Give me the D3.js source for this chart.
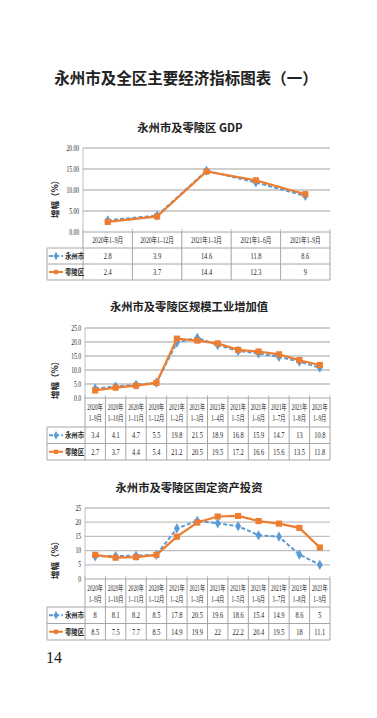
<!DOCTYPE html>
<html><head><meta charset="utf-8">
<script src="https://cdn.jsdelivr.net/npm/d3@7"></script>
<style>
html,body{margin:0;padding:0;background:#fff;}
svg{display:block;}
</style></head>
<body>
<svg id="c" width="377" height="718"></svg>
<script>
// ---------- DATA ----------
const pageTitle = "永州市及全区主要经济指标图表（一）";
const pageNumber = "14";
const seriesNames = ["永州市", "零陵区"];

const gdpTitle = "永州市及零陵区 GDP";
const gdpCategories = [["2020年1–9月"], ["2020年1–12月"], ["2021年1–3月"], ["2021年1–6月"], ["2021年1–9月"]];
const gdpYongzhou = [2.8, 3.9, 14.6, 11.8, 8.6];
const gdpLingling = [2.4, 3.7, 14.4, 12.3, 9];
const gdpTicks = [0, 5, 10, 15, 20];

const indTitle = "永州市及零陵区规模工业增加值";
const monthCategories = [
  ["2020年","1–9月"],["2020年","1–10月"],["2020年","1–11月"],["2020年","1–12月"],
  ["2021年","1–2月"],["2021年","1–3月"],["2021年","1–4月"],["2021年","1–5月"],
  ["2021年","1–6月"],["2021年","1–7月"],["2021年","1–8月"],["2021年","1–9月"]];
const indYongzhou = [3.4, 4.1, 4.7, 5.5, 19.8, 21.5, 18.9, 16.8, 15.9, 14.7, 13, 10.8];
const indLingling = [2.7, 3.7, 4.4, 5.4, 21.2, 20.5, 19.5, 17.2, 16.6, 15.6, 13.5, 11.8];
const indTicks = [0, 5, 10, 15, 20, 25];

const invTitle = "永州市及零陵区固定资产投资";
const invYongzhou = [8, 8.1, 8.2, 8.5, 17.8, 20.5, 19.6, 18.6, 15.4, 14.9, 8.6, 5];
const invLingling = [8.5, 7.5, 7.7, 8.5, 14.9, 19.9, 22, 22.2, 20.4, 19.5, 18, 11.1];
const invTicks = [0, 5, 10, 15, 20, 25];

const yAxisTitle = "增幅（%）";

// ---------- DRAW ----------
const svg = d3.select("#c");
const BLUE = "#5B9BD5", ORANGE = "#ED7D31", GRID = "#BFBFBF", BORDER = "#A6A6A6";
const SANS = "'Noto Sans CJK SC','Noto Sans',sans-serif";
const SERIF = "'Liberation Serif','Noto Sans CJK SC',serif";

svg.append("text").attr("x", 186).attr("y", 84).attr("text-anchor", "middle")
  .attr("font-family", SANS).attr("font-weight", "bold").attr("font-size", 15.5)
  .attr("fill", "#222").text(pageTitle);

svg.append("text").attr("x", 46).attr("y", 663)
  .attr("font-family", SERIF).attr("font-size", 16).attr("fill", "#222").text(pageNumber);

function condText(g, x, y, txt, size, anchor, sx) {
  return g.append("text").attr("transform", `translate(${x},${y}) scale(${sx||0.78},1)`)
    .attr("text-anchor", anchor || "middle").attr("font-family", SERIF)
    .attr("font-size", size).attr("fill", "#222").text(txt);
}

function drawChart(o) {
  const g = svg.append("g");
  g.append("text").attr("x", o.titleX).attr("y", o.titleY + 4).attr("text-anchor", "middle")
    .attr("font-family", SANS).attr("font-weight", "bold").attr("font-size", 11.3)
    .attr("fill", "#222").text(o.title);

  const x = d3.scaleBand().domain(d3.range(o.cats.length)).range([o.left, o.right]).padding(0);
  const y = d3.scaleLinear().domain([0, o.ticks[o.ticks.length - 1]]).range([o.zeroY, o.top]);

  // gridlines
  g.selectAll(".grid").data(o.ticks.slice(1)).join("line")
    .attr("x1", o.left).attr("x2", o.right).attr("y1", d => y(d)).attr("y2", d => y(d))
    .attr("stroke", GRID).attr("stroke-width", 1.3);
  // left axis line
  g.append("line").attr("x1", o.left).attr("x2", o.left).attr("y1", o.top).attr("y2", o.zeroY)
    .attr("stroke", GRID).attr("stroke-width", 1);
  // tick labels
  o.ticks.forEach(t => condText(g, o.left - 4, y(t) + 2.5, d3.format(o.fmt)(t), 7.5, "end", 0.75));
  // small ticks above axis
  d3.range(o.cats.length + 1).forEach(i => {
    const xx = i < o.cats.length ? x(i) : o.right;
    g.append("line").attr("x1", xx).attr("x2", xx).attr("y1", o.zeroY - 3).attr("y2", o.zeroY)
      .attr("stroke", GRID).attr("stroke-width", 1);
  });

  // y axis title
  g.append("text").attr("transform", `translate(${o.ytx},${o.yty}) rotate(-90)`)
    .attr("text-anchor", "middle").attr("font-family", SANS).attr("font-weight", "bold")
    .attr("font-size", 8.5).attr("fill", "#222").text(yAxisTitle);

  // table
  const rows = [o.zeroY, o.zeroY + o.headH, o.zeroY + o.headH + o.rowH, o.zeroY + o.headH + 2 * o.rowH];
  const tb = g.append("g").attr("stroke", BORDER).attr("stroke-width", 1);
  tb.append("line").attr("x1", o.left).attr("x2", o.right).attr("y1", rows[0]).attr("y2", rows[0]);
  [1, 2, 3].forEach(r => tb.append("line").attr("x1", o.tableLeft).attr("x2", o.right)
    .attr("y1", rows[r]).attr("y2", rows[r]));
  tb.append("line").attr("x1", o.tableLeft).attr("x2", o.tableLeft).attr("y1", rows[1]).attr("y2", rows[3]);
  d3.range(o.cats.length).forEach(i => tb.append("line").attr("x1", x(i)).attr("x2", x(i))
    .attr("y1", rows[0]).attr("y2", rows[3]));
  tb.append("line").attr("x1", o.right).attr("x2", o.right).attr("y1", rows[0]).attr("y2", rows[3]);

  // header labels
  o.cats.forEach((c, i) => {
    const cx = x(i) + x.bandwidth() / 2;
    if (c.length === 1) {
      condText(g, cx, rows[0] + o.headH / 2 + 3, c[0], 7.8, "middle", 0.72);
    } else {
      condText(g, cx, rows[0] + o.headH * 0.33 + 2.5, c[0], 7.5, "middle", 0.7);
      condText(g, cx, rows[0] + o.headH * 0.72 + 2.5, c[1], 7.5, "middle", 0.7);
    }
  });

  const series = [
    { name: seriesNames[0], vals: o.s1, color: BLUE, dash: "4,2.2", shape: d3.symbolDiamond },
    { name: seriesNames[1], vals: o.s2, color: ORANGE, dash: null, shape: d3.symbolSquare }
  ];
  // values rows + legend
  series.forEach((s, si) => {
    const ry = rows[1 + si] + o.rowH / 2;
    s.vals.forEach((v, i) => condText(g, x(i) + x.bandwidth() / 2, ry + 3, String(v), 8, "middle", 0.8));
    g.append("line").attr("x1", o.tableLeft + 2).attr("x2", o.tableLeft + 16).attr("y1", ry).attr("y2", ry)
      .attr("stroke", s.color).attr("stroke-width", 2).attr("stroke-dasharray", s.dash);
    g.append("path").attr("d", d3.symbol().type(s.shape).size(si ? 18 : 20)())
      .attr("transform", `translate(${o.tableLeft + 9},${ry})`).attr("fill", s.color);
    condText(g, o.tableLeft + 18, ry + 3, s.name, 7.5, "start", 0.85).attr("font-weight", "bold");
  });

  // lines
  series.forEach((s, si) => {
    const line = d3.line().x((d, i) => x(i) + x.bandwidth() / 2).y(d => y(d));
    g.append("path").datum(s.vals).attr("d", line).attr("fill", "none")
      .attr("stroke", s.color).attr("stroke-width", si ? 2.2 : 2).attr("stroke-dasharray", s.dash);
    g.selectAll(null).data(s.vals).join("path")
      .attr("d", d3.symbol().type(s.shape).size(si ? 38 : 30)())
      .attr("transform", (d, i) => `translate(${x(i) + x.bandwidth() / 2},${y(d)})`)
      .attr("fill", s.color);
  });
}

drawChart({ title: gdpTitle, titleX: 190, titleY: 128, cats: gdpCategories, s1: gdpYongzhou, s2: gdpLingling,
  ticks: gdpTicks, fmt: ".2f", left: 83, right: 330, top: 148, zeroY: 232, tableLeft: 47,
  headH: 16, rowH: 16, ytx: 58, yty: 197 });

drawChart({ title: indTitle, titleX: 189, titleY: 307, cats: monthCategories, s1: indYongzhou, s2: indLingling,
  ticks: indTicks, fmt: ".1f", left: 85, right: 330, top: 328, zeroY: 398, tableLeft: 47,
  headH: 29, rowH: 16.5, ytx: 58, yty: 378 });

drawChart({ title: invTitle, titleX: 189, titleY: 488, cats: monthCategories, s1: invYongzhou, s2: invLingling,
  ticks: invTicks, fmt: "d", left: 85, right: 330, top: 508, zeroY: 579, tableLeft: 47,
  headH: 28, rowH: 16.5, ytx: 58, yty: 558 });
</script>
</body></html>
